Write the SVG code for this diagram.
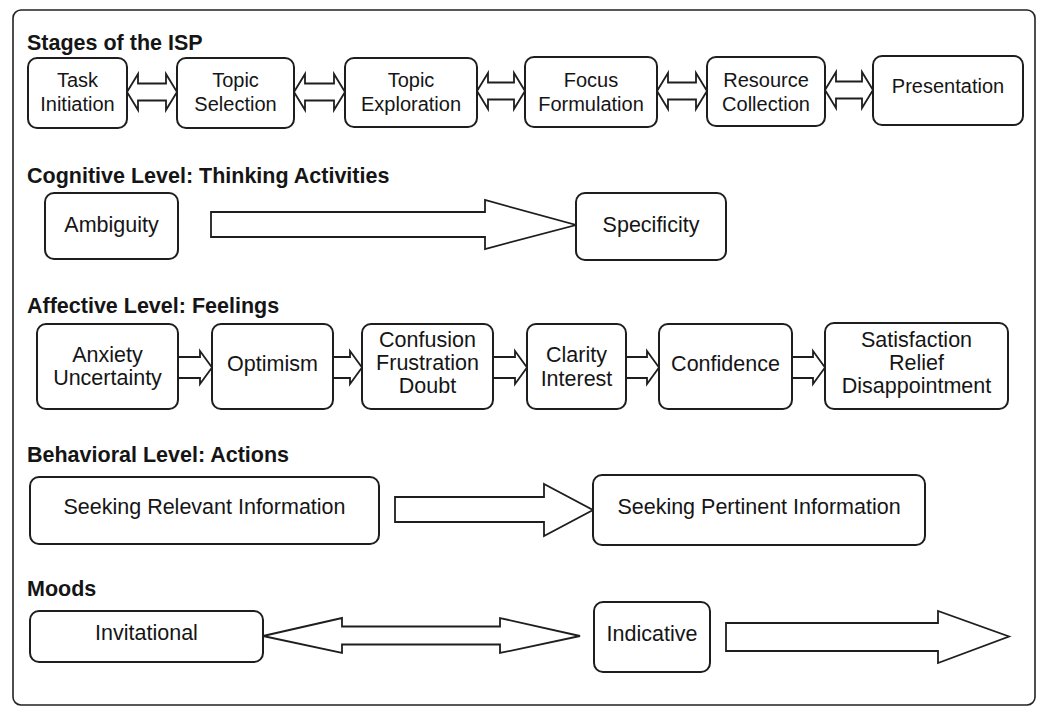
<svg xmlns="http://www.w3.org/2000/svg" width="1040" height="708" viewBox="0 0 1040 708">
  <style>
    .frame { fill: #ffffff; stroke: #222; stroke-width: 1.6; }
    .box { fill: #ffffff; stroke: #1e1e1e; stroke-width: 2; }
    .arrow { fill: #ffffff; stroke: #1e1e1e; stroke-width: 1.8; stroke-linejoin: miter; }
    .title { font-family: "Liberation Sans", Arial, Helvetica, sans-serif; font-weight: bold; font-size: 21.5px; fill: #151515; }
    .t20 { font-family: "Liberation Sans", Arial, Helvetica, sans-serif; font-size: 20px; fill: #151515; text-anchor: middle; }
    .t22 { font-family: "Liberation Sans", Arial, Helvetica, sans-serif; font-size: 21.5px; fill: #151515; text-anchor: middle; }
  </style>

  <rect width="1040" height="708" fill="#ffffff"/>
  <rect class="frame" x="13" y="10" width="1022" height="695" rx="8"/>

  <!-- section headings -->
  <g id="headings">
    <text class="title" x="27" y="50">Stages of the ISP</text>
    <text class="title" x="27" y="183">Cognitive Level: Thinking Activities</text>
    <text class="title" x="27" y="313">Affective Level: Feelings</text>
    <text class="title" x="27" y="462">Behavioral Level: Actions</text>
    <text class="title" x="27" y="596">Moods</text>
  </g>

  <!-- connectors -->
  <g id="connectors">
    <!-- stages: two-way block arrows -->
    <path class="arrow" d="M127,92 L138,74 L138,83.5 L166,83.5 L166,74 L177,92 L166,110 L166,100.5 L138,100.5 L138,110 Z"/>
    <path class="arrow" d="M294,92 L305,74 L305,83.5 L334,83.5 L334,74 L345,92 L334,110 L334,100.5 L305,100.5 L305,110 Z"/>
    <path class="arrow" d="M477,91 L488,73 L488,82.5 L514,82.5 L514,73 L525,91 L514,109 L514,99.5 L488,99.5 L488,109 Z"/>
    <path class="arrow" d="M657,91 L668,73 L668,82.5 L696,82.5 L696,73 L707,91 L696,109 L696,99.5 L668,99.5 L668,109 Z"/>
    <path class="arrow" d="M825,90 L836,72 L836,81.5 L862,81.5 L862,72 L873,90 L862,108 L862,98.5 L836,98.5 L836,108 Z"/>

    <!-- cognitive -->
    <path class="arrow" d="M211,212 L485,212 L485,200 L576,225 L485,249 L485,237 L211,237 Z"/>

    <!-- affective: one-way block arrows -->
    <path class="arrow" d="M178,357 L200,357 L200,351 L212,367.5 L200,384 L200,378 L178,378"/>
    <path class="arrow" d="M333,357 L350,357 L350,351 L362,367.5 L350,384 L350,378 L333,378"/>
    <path class="arrow" d="M493,357 L515,357 L515,351 L527,367.5 L515,384 L515,378 L493,378"/>
    <path class="arrow" d="M626,357 L647,357 L647,351 L659,367.5 L647,384 L647,378 L626,378"/>
    <path class="arrow" d="M792,357 L813,357 L813,351 L825,367.5 L813,384 L813,378 L792,378"/>

    <!-- behavioral -->
    <path class="arrow" d="M395,497 L544,497 L544,484 L593,510 L544,536 L544,522 L395,522 Z"/>

    <!-- moods -->
    <path class="arrow" d="M263,636 L342,618 L342,626.5 L500,626.5 L500,618 L580,636 L500,653 L500,644.5 L342,644.5 L342,653 Z"/>
    <path class="arrow" d="M726,623 L938,623 L938,611 L1009,636.5 L938,663 L938,651 L726,651 Z"/>
  </g>

  <!-- stages of the ISP -->
  <g id="task-initiation">
    <rect class="box" x="28" y="58" width="99" height="70" rx="9"/>
    <text class="t20" x="77.5" y="87">Task</text>
    <text class="t20" x="77.5" y="111">Initiation</text>
  </g>
  <g id="topic-selection">
    <rect class="box" x="177" y="58" width="117" height="70" rx="9"/>
    <text class="t20" x="235.5" y="87">Topic</text>
    <text class="t20" x="235.5" y="111">Selection</text>
  </g>
  <g id="topic-exploration">
    <rect class="box" x="345" y="58" width="132" height="69" rx="9"/>
    <text class="t20" x="411" y="87">Topic</text>
    <text class="t20" x="411" y="111">Exploration</text>
  </g>
  <g id="focus-formulation">
    <rect class="box" x="525" y="57" width="132" height="70" rx="9"/>
    <text class="t20" x="591" y="87">Focus</text>
    <text class="t20" x="591" y="111">Formulation</text>
  </g>
  <g id="resource-collection">
    <rect class="box" x="707" y="57" width="118" height="69" rx="9"/>
    <text class="t20" x="766" y="87">Resource</text>
    <text class="t20" x="766" y="111">Collection</text>
  </g>
  <g id="presentation">
    <rect class="box" x="873" y="56" width="150" height="69" rx="9"/>
    <text class="t20" x="948" y="93">Presentation</text>
  </g>

  <!-- cognitive level -->
  <g id="ambiguity">
    <rect class="box" x="45" y="193" width="133" height="66" rx="9"/>
    <text class="t22" x="111.5" y="232">Ambiguity</text>
  </g>
  <g id="specificity">
    <rect class="box" x="576" y="193" width="150" height="67" rx="9"/>
    <text class="t22" x="651" y="232">Specificity</text>
  </g>

  <!-- affective level -->
  <g id="anxiety">
    <rect class="box" x="37" y="324" width="141" height="85" rx="9"/>
    <text class="t22" x="107.5" y="362">Anxiety</text>
    <text class="t22" x="107.5" y="385">Uncertainty</text>
  </g>
  <g id="optimism">
    <rect class="box" x="212" y="324" width="121" height="85" rx="9"/>
    <text class="t22" x="272.5" y="371">Optimism</text>
  </g>
  <g id="confusion">
    <rect class="box" x="362" y="324" width="131" height="85" rx="9"/>
    <text class="t22" x="427.5" y="347">Confusion</text>
    <text class="t22" x="427.5" y="370">Frustration</text>
    <text class="t22" x="427.5" y="393">Doubt</text>
  </g>
  <g id="clarity">
    <rect class="box" x="527" y="324" width="99" height="85" rx="9"/>
    <text class="t22" x="576.5" y="362">Clarity</text>
    <text class="t22" x="576.5" y="386">Interest</text>
  </g>
  <g id="confidence">
    <rect class="box" x="659" y="324" width="133" height="85" rx="9"/>
    <text class="t22" x="725.5" y="371">Confidence</text>
  </g>
  <g id="satisfaction">
    <rect class="box" x="825" y="323" width="183" height="86" rx="9"/>
    <text class="t22" x="916.5" y="347">Satisfaction</text>
    <text class="t22" x="916.5" y="370">Relief</text>
    <text class="t22" x="916.5" y="393">Disappointment</text>
  </g>

  <!-- behavioral level -->
  <g id="seeking-relevant">
    <rect class="box" x="30" y="477" width="349" height="67" rx="9"/>
    <text class="t22" x="204.5" y="514">Seeking Relevant Information</text>
  </g>
  <g id="seeking-pertinent">
    <rect class="box" x="593" y="475" width="332" height="70" rx="9"/>
    <text class="t22" x="759" y="514">Seeking Pertinent Information</text>
  </g>

  <!-- moods -->
  <g id="invitational">
    <rect class="box" x="30" y="611" width="233" height="51" rx="9"/>
    <text class="t22" x="146.5" y="640">Invitational</text>
  </g>
  <g id="indicative">
    <rect class="box" x="594" y="602" width="116" height="70" rx="9"/>
    <text class="t22" x="652" y="641">Indicative</text>
  </g>
</svg>
